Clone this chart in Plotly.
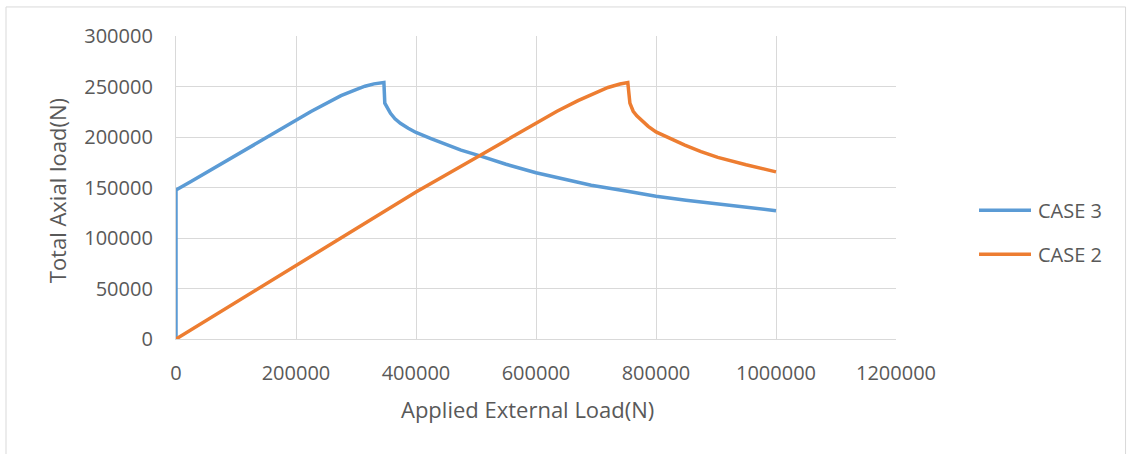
import plotly.graph_objects as go

# Applied external load (N) and resulting total axial load (N) for each case
case3_x = [0, 0, 25000, 50000, 75000, 100000, 125000, 150000, 175000, 200000,
           225000, 250000, 275000, 300000, 315000, 330000, 340000, 346500,
           348000, 352000, 357500, 365000, 374000, 387000, 400000, 425000, 450000,
           475000, 508000, 550000, 600000, 650000, 692000, 750000, 800000, 850000,
           903000, 950000, 1000000]
case3_y = [0, 147500, 156000, 164500, 173000, 181500, 190000, 199000, 207800, 216500,
           225200, 233500, 241000, 247000, 250300, 252600, 253600, 254000,
           233500, 228500, 223400, 218000, 213500, 208700, 204500, 198500, 192500,
           187000, 181000, 173000, 164600, 158000, 152300, 146500, 141400, 137300,
           133400, 130000, 127000]

case2_x = [0, 100000, 200000, 300000, 400000, 500000, 600000, 635000, 670000, 700000,
           720000, 740000, 753000, 756500, 759000, 762000, 768000, 775000, 787000,
           800000, 825000, 848000, 875000, 903000, 950000, 1000000]
case2_y = [0, 36500, 73000, 109500, 145500, 179500, 213600, 225500, 236000, 244300,
           249000, 252500, 254000, 233500, 229000, 225500, 221000, 216700, 210500,
           205000, 198000, 192000, 185600, 179800, 172500, 165500]

series_names = ["CASE 3", "CASE 2"]
series_colors = ["#5B9BD5", "#ED7D31"]

x_ticks = [0, 200000, 400000, 600000, 800000, 1000000, 1200000]
y_ticks = [0, 50000, 100000, 150000, 200000, 250000, 300000]

x_title = "Applied External Load(N)"
y_title = "Total Axial load(N)"

FONT = "Open Sans"
TEXT = "#595959"
GRID = "#D9D9D9"
LINE_W = 3.5

fig = go.Figure()
for xs, ys, name, color in zip([case3_x, case2_x], [case3_y, case2_y],
                               series_names, series_colors):
    fig.add_trace(go.Scatter(x=xs, y=ys, mode="lines", name=name,
                             line=dict(color=color, width=LINE_W),
                             showlegend=False))

axis_common = dict(showgrid=True, gridcolor=GRID, gridwidth=1.3,
                   showline=True, linecolor=GRID, linewidth=1.3,
                   zeroline=False, ticks="outside", tickcolor="rgba(0,0,0,0)",
                   tickfont=dict(family=FONT, size=20, color=TEXT),
                   showexponent="none", exponentformat="none", separatethousands=False)

fig.update_xaxes(range=[0, 1200000], tickvals=x_ticks,
                 ticktext=[str(v) for v in x_ticks], ticklen=16, mirror=False,
                 **axis_common)
fig.update_yaxes(range=[0, 300000], tickvals=y_ticks,
                 ticktext=[str(v) for v in y_ticks], ticklen=18,
                 **axis_common)

annotations = [
    dict(text=x_title, xref="paper", yref="paper", x=0.4875, y=-0.2298,
         xanchor="center", yanchor="middle", showarrow=False,
         font=dict(family=FONT, size=22, color=TEXT)),
    dict(text=y_title, xref="paper", yref="paper", x=-0.1653, y=0.4909,
         xanchor="center", yanchor="middle", showarrow=False, textangle=-90,
         font=dict(family=FONT, size=22, color=TEXT)),
]

shapes = [
    # outer chart frame
    dict(type="rect", xref="paper", yref="paper", x0=-0.2361, x1=1.3188,
         y0=-0.42, y1=1.0959, line=dict(color=GRID, width=1)),
]

# legend drawn to the right of the plot area
legend_y = [0.4248, 0.2793]
for name, color, ly in zip(series_names, series_colors, legend_y):
    shapes.append(dict(type="line", xref="paper", yref="paper",
                       x0=1.1153, x1=1.1875, y0=ly, y1=ly,
                       line=dict(color=color, width=LINE_W)))
    annotations.append(dict(text=name, xref="paper", yref="paper",
                            x=1.1944, y=ly, xanchor="left", yanchor="middle",
                            showarrow=False,
                            font=dict(family=FONT, size=20, color=TEXT)))

fig.update_layout(
    width=1130, height=454,
    margin=dict(l=176, r=234, t=36, b=115, pad=0),
    paper_bgcolor="white", plot_bgcolor="white",
    annotations=annotations, shapes=shapes,
    font=dict(family=FONT, color=TEXT),
)

fig.write_html("out.html", config={"displayModeBar": False})
